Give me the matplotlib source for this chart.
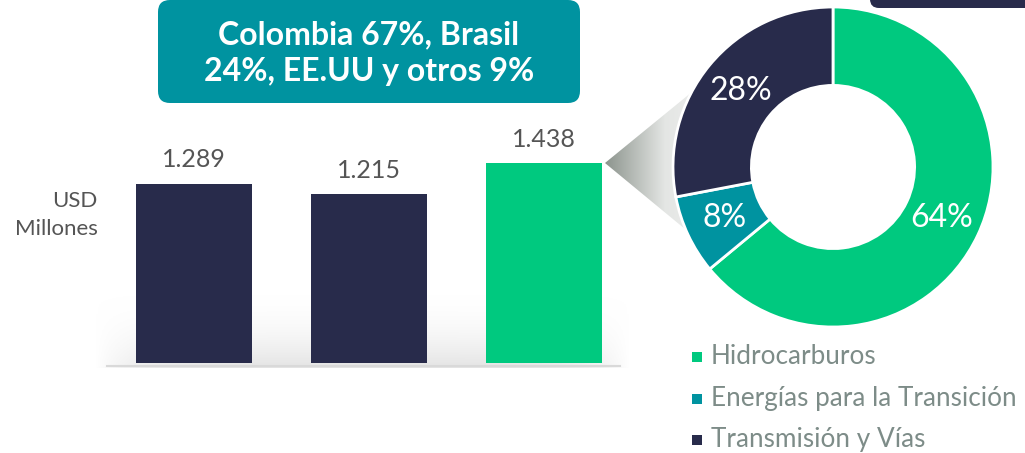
import matplotlib
matplotlib.use("Agg")
import matplotlib.pyplot as plt
import numpy as np
from matplotlib.patches import FancyBboxPatch, Polygon
from matplotlib.colors import LinearSegmentedColormap

# ---- data ----
bar_values = [1.289, 1.215, 1.438]
bar_labels = ["1.289", "1.215", "1.438"]
bar_colors = ["#282B4B", "#282B4B", "#00C97F"]

donut_labels = ["Hidrocarburos", "Energías para la Transición", "Transmisión y Vías"]
donut_values = [64, 8, 28]
donut_colors = ["#00C97F", "#0093A0", "#282B4B"]

callout_text = "Colombia 67%, Brasil\n24%, EE.UU y otros 9%"
unit_text = "USD\nMillones"

W, H = 1025, 453
fig = plt.figure(figsize=(W / 100, H / 100), dpi=100)
fig.patch.set_facecolor("white")

def fx(px):
    return px / W

def fy(py):
    return 1 - py / H

# background axes in pixel coordinates
bg = fig.add_axes([0, 0, 1, 1], zorder=0)
bg.axis("off")

# faint shading beneath bars (fades vertically and at the sides)
vy = np.linspace(0, 1, 100).reshape(-1, 1) ** 2
hx = np.linspace(-1, 1, 300).reshape(1, -1)
hx = np.clip(1 - np.abs(hx) ** 6, 0, 1)
shade = vy * hx
shade_cmap = LinearSegmentedColormap.from_list("s", ["#FFFFFF", "#E4E4E4"])
bg.imshow(shade, extent=[95, 630, 368, 290], cmap=shade_cmap, aspect="auto", zorder=0)

# callout box
bg.add_patch(FancyBboxPatch((158, 0), 422, 103, boxstyle="round,pad=0,rounding_size=12",
                            facecolor="#0093A0", edgecolor="none", zorder=2))
bg.text(369, 53, callout_text, ha="center", va="center", color="white",
        fontsize=23, fontweight="bold", family="Lato", linespacing=1.3, zorder=3)

# dark box top right
bg.add_patch(FancyBboxPatch((870, -30), 200, 38, boxstyle="round,pad=0,rounding_size=9",
                            facecolor="#282B4B", edgecolor="none", zorder=2))

# grey connector triangle with gradient
apex = (605, 163)
tri = Polygon([apex, (725, 65), (725, 262)], closed=True, facecolor="none", edgecolor="none")
bg.add_patch(tri)
grad = np.linspace(0, 1, 256).reshape(1, -1)
cmap = LinearSegmentedColormap.from_list("g", ["#8C948D", "#E4E6E4", "#F2F2F2"])
im = bg.imshow(grad, extent=[605, 725, 262, 65], cmap=cmap, aspect="auto", zorder=1)
im.set_clip_path(tri)
bg.set_xlim(0, W)
bg.set_ylim(H, 0)

# unit text
bg.text(98, 215, unit_text, ha="right", va="center", color="#555555",
        fontsize=16, family="Lato", linespacing=1.55)

# ---- bar axes ----
base_px = 363
unit_px = 139
ymax = 1.6
ax_left, ax_right = 107, 620
axb = fig.add_axes([fx(ax_left), fy(base_px), (ax_right - ax_left) / W, ymax * unit_px / H], zorder=1)
axb.patch.set_alpha(0)
x = np.arange(len(bar_values))
spacing = 175
axb.bar(x, bar_values, width=116 / spacing, color=bar_colors)
axb.set_xlim(-(194 - ax_left) / spacing, (ax_right - 194) / spacing)
axb.set_ylim(0, ymax)
for xi, v, lab in zip(x, bar_values, bar_labels):
    axb.text(xi, v + 0.09, lab, ha="center", va="bottom", fontsize=18, color="#555555",
             family="Lato")
axb.axhline(-0.02, color="#D9D9D9", lw=1.5, clip_on=False)
axb.axis("off")

# ---- donut ----
cx, cy, r = 833, 167, 160
axd = fig.add_axes([fx(cx - r), fy(cy + r), 2 * r / W, 2 * r / H], zorder=2)
axd.patch.set_alpha(0)
wedges, texts, autotexts = axd.pie(
    donut_values, colors=donut_colors, startangle=90, counterclock=False,
    radius=1, autopct=lambda p: f"{p:.0f}%", pctdistance=0.75,
    wedgeprops=dict(width=0.49, edgecolor="white", linewidth=2),
    textprops=dict(color="white", fontsize=23, family="Lato"))
axd.set_xlim(-1, 1)
axd.set_ylim(-1, 1)
axd.set_aspect("equal")
axd.axis("off")

# legend
for i, (lab, col) in enumerate(zip(donut_labels, donut_colors)):
    yy = 357 + i * 41.5
    bg.add_patch(plt.Rectangle((692, yy - 5), 10, 10, facecolor=col, edgecolor="none"))
    bg.text(711, yy, lab, ha="left", va="center", fontsize=18.8, color="#7D8C88", family="Lato")

fig.savefig("out.png", dpi=100)
